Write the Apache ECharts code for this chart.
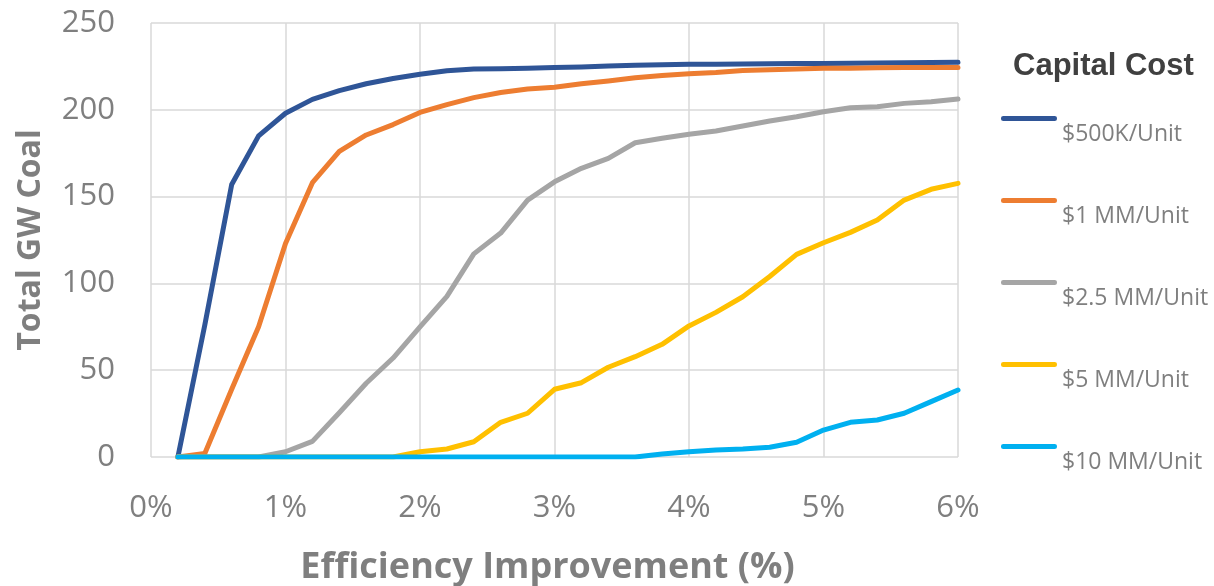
<!DOCTYPE html>
<html>
<head>
<meta charset="utf-8">
<script src="https://cdn.jsdelivr.net/npm/echarts@6/dist/echarts.min.js"></script>
<style>
html,body{margin:0;padding:0;background:#fff;}
#chart{width:1214px;height:586px;}
</style>
</head>
<body>
<div id="chart"></div>
<script>
const xValues = [0.2,0.4,0.6,0.8,1.0,1.2,1.4,1.6,1.8,2.0,2.2,2.4,2.6,2.8,3.0,3.2,3.4,3.6,3.8,4.0,4.2,4.4,4.6,4.8,5.0,5.2,5.4,5.6,5.8,6.0];
const seriesNames = ['$500K/Unit','$1 MM/Unit','$2.5 MM/Unit','$5 MM/Unit','$10 MM/Unit'];
const cost500K = [0,76,157,185,198,206,211,215,218,220.5,222.5,223.5,223.7,224,224.3,224.7,225.2,225.6,225.9,226.2,226.3,226.4,226.5,226.6,226.7,226.8,227,227.1,227.3,227.4];
const cost1MM = [0,2,39,75,123,158,176,185.5,191.5,198.5,203,207,210,212,213,215,216.6,218.5,219.8,220.8,221.5,222.6,223,223.5,224,224,224.2,224.3,224.3,224.4];
const cost2_5MM = [0,0,0,0,3,9,25.5,42.5,57,75,92.5,117,129,148,158.5,166.3,172,181,183.6,185.9,187.8,190.7,193.5,196,198.9,201.2,201.8,203.7,204.7,206.2];
const cost5MM = [0,0,0,0,0,0,0,0,0,3,4.6,8.8,20,25.2,39,42.8,51.7,57.8,64.9,75.5,83.3,92.3,104,116.7,123.4,129.4,136.5,148,154.2,157.6];
const cost10MM = [0,0,0,0,0,0,0,0,0,0,0,0,0,0,0,0,0,0,1.7,3,4,4.6,5.6,8.5,15.5,20,21.3,25.2,31.9,38.6];
const colors = ['#2F5597','#ED7D31','#A5A5A5','#FFC000','#00B0F0'];
const allSeries = [cost500K,cost1MM,cost2_5MM,cost5MM,cost10MM];

const chart = echarts.init(document.getElementById('chart'));
const font = '"Open Sans", "Noto Sans", sans-serif';
// legend icon: a rounded line at the top of a taller (invisible) box, so the text sits below-right of it
const legendIcon = 'path://M2.5,0 H53.5 A2.5,2.5 0 0 1 53.5,5 H2.5 A2.5,2.5 0 0 1 2.5,0 Z M0,36 L0.01,36 L0,36.01 Z';
chart.setOption({
  animation:false,
  backgroundColor:'#fff',
  title:{
    text:'Capital Cost',
    left:1008, top:46,
    textStyle:{fontFamily:'"Liberation Sans", Arial, sans-serif',fontWeight:'bold',fontSize:31,color:'#404040'}
  },
  legend:{
    orient:'vertical',
    left:996, top:111,
    icon:legendIcon,
    itemWidth:56, itemHeight:36,
    itemGap:46,
    data:seriesNames,
    textStyle:{fontFamily:font,fontSize:23,color:'#7f7f7f'}
  },
  grid:{left:151,right:256,top:23,bottom:129,outerBoundsMode:'none',containLabel:false},
  xAxis:{
    type:'value', min:0, max:6, interval:1,
    name:'Efficiency Improvement (%)',
    nameLocation:'middle', nameGap:93,
    nameTextStyle:{fontFamily:font,fontWeight:'bold',fontSize:36,color:'#7f7f7f',padding:[0,14,0,0]},
    axisLine:{show:false}, axisTick:{show:false},
    axisLabel:{formatter:'{value}%',fontFamily:font,fontSize:31,color:'#7f7f7f',margin:36},
    splitLine:{show:true,lineStyle:{color:'#d9d9d9',width:1.5}}
  },
  yAxis:{
    type:'value', min:0, max:250, interval:50,
    name:'Total GW Coal',
    nameLocation:'middle', nameGap:104,
    nameTextStyle:{fontFamily:font,fontWeight:'bold',fontSize:32,color:'#7f7f7f'},
    axisLine:{show:false}, axisTick:{show:false},
    axisLabel:{fontFamily:font,fontSize:31,color:'#7f7f7f',margin:36},
    splitLine:{show:true,lineStyle:{color:'#d9d9d9',width:1.5}}
  },
  series: seriesNames.map((n,i)=>({
    name:n, type:'line', showSymbol:false, symbol:'none',
    data: xValues.map((x,j)=>[x, allSeries[i][j]]),
    lineStyle:{color:colors[i],width:5,cap:'round',join:'round'},
    itemStyle:{color:colors[i]}
  }))
});
</script>
</body>
</html>
